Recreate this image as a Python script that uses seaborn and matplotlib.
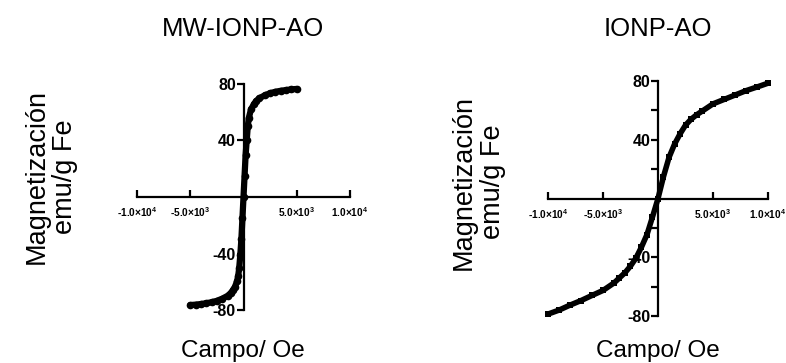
import matplotlib
matplotlib.use("Agg")
import matplotlib.pyplot as plt
import seaborn as sns

sns.set_theme(style="white")
plt.rcParams['font.family'] = ['Liberation Sans', 'DejaVu Sans']
plt.rcParams['mathtext.fontset'] = 'custom'
plt.rcParams['mathtext.rm'] = 'Liberation Sans'
plt.rcParams['mathtext.bf'] = 'Liberation Sans:bold'
plt.rcParams['mathtext.default'] = 'bf'
plt.rcParams['text.color'] = 'black'
plt.rcParams['xtick.color'] = 'black'
plt.rcParams['ytick.color'] = 'black'

# MW-IONP-AO (field Oe, magnetization emu/g Fe)
h_mw = [-5000, -4500, -4000, -3500, -3000, -2500, -2000, -1500, -1200, -1000, -800, -600,
        -500, -400, -300, -200, -100, 0, 100, 200, 300, 400, 500, 700, 1000, 1200, 1500,
        2000, 2500, 3000, 3500, 4000, 4500, 5000]
m_mw = [-76.5, -76.2, -75.8, -75.2, -74.5, -73.5, -72.0, -70.0, -68.0, -66.0, -63.5, -59.5,
        -56.0, -50.0, -41.0, -30.0, -15.0, 0.0, 15.0, 30.0, 40.0, 50.0, 56.0, 62.0, 66.0,
        68.0, 70.0, 72.0, 73.5, 74.5, 75.2, 75.7, 76.2, 76.5]

# IONP-AO
h_io = [-10000, -9000, -8000, -7000, -6000, -5000, -4000, -3500, -3000, -2500, -2000,
        -1500, -1000, -500, 0, 500, 1000, 1500, 2000, 2500, 3000, 3500, 4000, 5000, 6000,
        7000, 8000, 9000, 10000]
m_io = [-78.7, -76.0, -72.6, -69.5, -66.0, -62.6, -57.5, -54.0, -50.5, -46.0, -40.5,
        -33.0, -24.5, -12.5, 0.0, 15.0, 28.0, 37.0, 44.0, 50.0, 54.0, 57.0, 59.5, 64.5,
        67.5, 70.5, 73.5, 76.0, 78.6]

xticks = [-10000, -5000, 5000, 10000]
xtick_labels = ['-1.0×10$^{4}$', '-5.0×10$^{3}$', '5.0×10$^{3}$', '1.0×10$^{4}$']
yticks = [-80, -40, 40, 80]
ytick_labels = ['-80', '-40', '40', '80']
titles = ['MW-IONP-AO', 'IONP-AO']

fig = plt.figure(figsize=(7.86, 3.63), dpi=100)
ax1 = fig.add_axes([0.1743, 0.146, 0.271, 0.6226])
ax2 = fig.add_axes([0.6972, 0.1295, 0.2799, 0.647])

sns.lineplot(x=h_mw, y=m_mw, ax=ax1, sort=False, color='black', linewidth=4.5,
             marker='o', markersize=5.5, markeredgewidth=0, estimator=None)
sns.lineplot(x=h_io, y=m_io, ax=ax2, sort=False, color='black', linewidth=4.0,
             marker='s', markersize=4.5, markeredgewidth=0, estimator=None)

for ax, title, cx in [(ax1, titles[0], 243), (ax2, titles[1], 658)]:
    ax.set_xlim(-10000, 10000)
    ax.set_ylim(-80, 80)
    for line in ax.lines:
        line.set_clip_on(False)
    ax.spines['left'].set_position(('data', 0))
    ax.spines['bottom'].set_position(('data', 0))
    ax.spines['right'].set_visible(False)
    ax.spines['top'].set_visible(False)
    for s in ['left', 'bottom']:
        ax.spines[s].set_linewidth(1.6)
        ax.spines[s].set_color('black')
    ax.set_xticks(xticks)
    ax.set_xticklabels(xtick_labels, fontsize=7.3, fontweight='bold')
    ax.set_yticks(yticks)
    ax.set_yticklabels(ytick_labels, fontsize=11.5, fontweight='bold')
    ax.tick_params(axis='x', direction='in', length=5, width=1.6, pad=6, bottom=True)
    ax.tick_params(axis='y', direction='out', length=5, width=1.6, pad=0.5, left=True)
    ax.set_xlabel('')
    ax.set_ylabel('')
    ax.patch.set_alpha(0)
    fig.text(cx / 786, 1 - 29 / 363, title, ha='center', va='center', fontsize=18.5)
    fig.text(cx / 786, 1 - 351 / 363, 'Campo/ Oe', ha='center', va='center', fontsize=17.5)

ax2.set_yticks([-60, -20, 20, 60], minor=True)
ax2.tick_params(axis='y', which='minor', direction='out', length=5, width=1.6, left=True)

fig.text(51 / 786, 1 - 177 / 363, 'Magnetización\nemu/g Fe', ha='center', va='center',
         rotation=90, fontsize=19.5, linespacing=1.15)
fig.text(478 / 786, 1 - 182 / 363, 'Magnetización\nemu/g Fe', ha='center', va='center',
         rotation=90, fontsize=19.5, linespacing=1.15)

fig.savefig('out.png', dpi=100)
